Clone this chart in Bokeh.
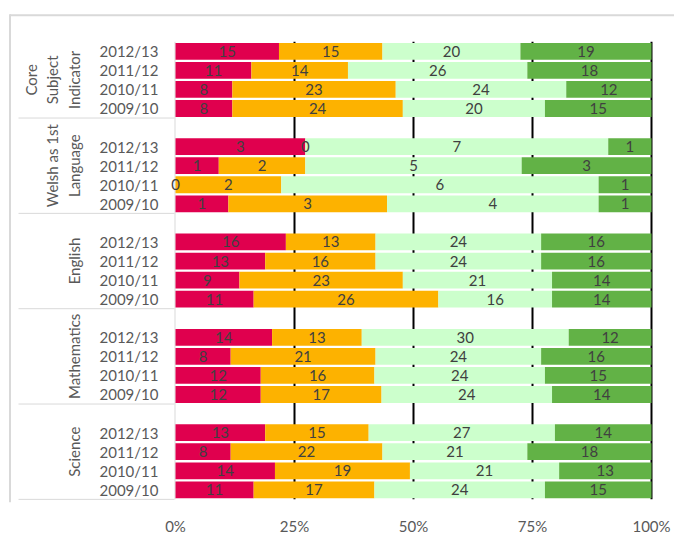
import numpy as np
from bokeh.plotting import figure
from bokeh.models import Range1d, FixedTicker, NumeralTickFormatter
from bokeh.core.properties import value
from bokeh.embed import file_html
from bokeh.resources import INLINE

# ---------------- data ----------------
groups = ["Core\nSubject\nIndicator", "Welsh as 1st\nLanguage", "English", "Mathematics", "Science"]
years = ["2012/13", "2011/12", "2010/11", "2009/10"]
# counts per band, group-major, years in the order above
band1 = [15, 11, 8, 8,   3, 1, 0, 1,   16, 13, 9, 11,   14, 8, 12, 12,   13, 8, 14, 11]
band2 = [15, 14, 23, 24, 0, 2, 2, 3,   13, 16, 23, 26,  13, 21, 16, 17,  15, 22, 19, 17]
band3 = [20, 26, 24, 20, 7, 5, 6, 4,   24, 24, 21, 16,  30, 24, 24, 24,  27, 21, 21, 24]
band4 = [19, 18, 12, 15, 1, 3, 1, 1,   16, 16, 14, 14,  12, 16, 15, 14,  14, 18, 13, 15]
x_ticks = [0, 0.25, 0.5, 0.75, 1.0]

colors = ["#E0004E", "#FDB200", "#CCFFCC", "#62B246"]

# ---------------- layout helpers ----------------
W, H = 674, 537
PX0, PX100 = 175, 651          # px of 0% and 100%
SX = (PX100 - PX0)
SLOT = 19.333
Y0 = 51.5                      # px of slot 0 centre
BOTTOM_BORDER = H - 509

def xd(px):
    return (px - PX0) / SX

def yd(py):
    return (py - Y0) / SLOT

x_start, x_end = xd(0), xd(W)
y_top, y_bot = yd(0), yd(H - BOTTOM_BORDER)

p = figure(width=W, height=H, output_backend="svg", toolbar_location=None,
           x_range=Range1d(x_start, x_end), y_range=Range1d(y_bot, y_top),
           y_axis_location=None, min_border_left=0, min_border_right=0,
           min_border_top=0, min_border_bottom=BOTTOM_BORDER)
p.outline_line_color = None
p.xgrid.visible = False
p.ygrid.visible = False

# slots
slots = []
for g in range(len(groups)):
    start = 0 if g == 0 else 5 * g
    for j in range(len(years)):
        slots.append(start + j)
slots = np.array(slots, dtype=float)

bands = np.array([band1, band2, band3, band4], dtype=float)
totals = bands.sum(axis=0)
fr = bands / totals
cum = np.cumsum(fr, axis=0)
lefts = cum - fr

# gridlines (behind bars)
grid_x = x_ticks[1:]
p.segment(x0=grid_x, x1=grid_x, y0=[-0.5] * len(grid_x), y1=[23.5] * len(grid_x),
          line_color="black", line_width=2)
# 0% axis line
p.segment(x0=[xd(174.5)], x1=[xd(174.5)], y0=[-0.5], y1=[23.5],
          line_color="#D9D9D9", line_width=1)

# bars
for k in range(4):
    p.hbar(y=slots, left=lefts[k], right=cum[k], height=0.88,
           fill_color=colors[k], line_color=None)

# data labels
lx, ly, lt = [], [], []
for k in range(4):
    for i in range(len(slots)):
        lx.append((lefts[k][i] + cum[k][i]) / 2)
        ly.append(slots[i])
        lt.append(str(int(bands[k][i])))
p.text(x=lx, y=ly, text=lt, text_align="center", text_baseline="middle",
       text_font=value("Lato"), text_font_size="15px", text_color="#404040")

# year labels
p.text(x=[xd(158)] * len(slots), y=slots, text=years * len(groups),
       text_align="right", text_baseline="middle",
       text_font=value("Lato"), text_font_size="15px", text_color="#595959")

# group labels & separators
gx, gy, gt = [], [], []
for g, name in enumerate(groups):
    lines = name.split("\n")
    n = len(lines)
    cy = 1.5 if g == 0 else 5 * g + 1
    for k, ln in enumerate(lines):
        gx.append(xd(73 - 21.5 * (n - 1 - k)))
        gy.append(cy)
        gt.append(ln)
p.text(x=gx, y=gy, text=gt, angle=np.pi / 2, text_align="center", text_baseline="middle",
       text_font=value("Lato"), text_font_size="15px", text_color="#595959")

sep_y = [5 * g + 3.5 for g in range(len(groups))]
p.segment(x0=[xd(18)] * len(sep_y), x1=[xd(174)] * len(sep_y), y0=sep_y, y1=sep_y,
          line_color="#D9D9D9", line_width=1)

# chart border (top & left)
p.segment(x0=[xd(9.5), xd(9.5)], x1=[x_end, xd(9.5)], y0=[yd(15), yd(14)], y1=[yd(15), y_bot],
          line_color="#D9D9D9", line_width=2)

# x axis
ax = p.xaxis[0]
ax.ticker = FixedTicker(ticks=x_ticks)
ax.formatter = NumeralTickFormatter(format="0%")
ax.axis_line_color = None
ax.major_tick_line_color = None
ax.minor_tick_line_color = None
ax.major_label_standoff = 8
ax.major_label_text_font = "Lato"
ax.major_label_text_font_size = "15px"
ax.major_label_text_color = "#595959"

open("out.html", "w").write(file_html(p, INLINE))
